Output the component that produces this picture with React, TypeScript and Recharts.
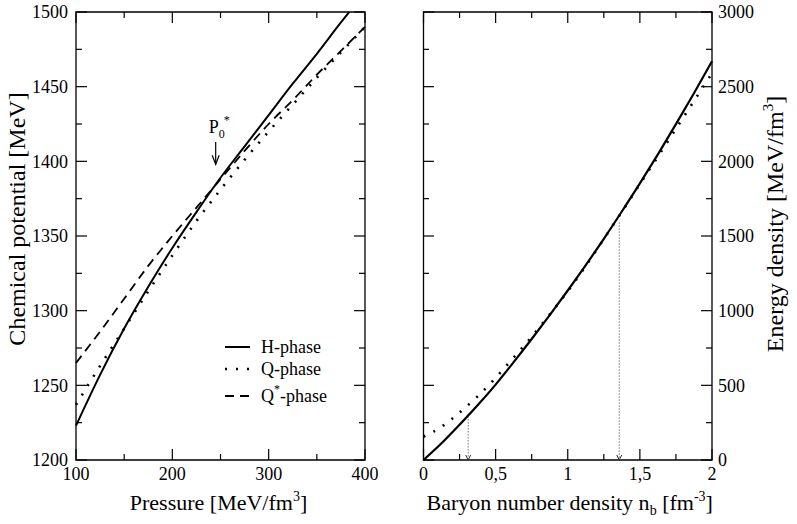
import React from 'react';
import { LineChart, Line, XAxis, YAxis, ReferenceArea, ReferenceLine, Legend, Label } from 'recharts';

// left panel: chemical potential vs pressure
const pressure = [100, 125, 150, 175, 200, 225, 250, 275, 300, 325, 350, 375, 400];
const muH = [1223, 1257, 1288, 1316, 1342, 1366, 1389, 1410, 1431, 1452, 1472, 1493, 1513];
const muQ = [1237, 1263, 1288, 1313, 1337, 1360, 1381, 1401, 1420, 1438, 1456, 1473, 1490];
const muQstar = [1265, 1286, 1308, 1330, 1350, 1369, 1388, 1407, 1425, 1441, 1458, 1474, 1490];

const pressureTicks = [100, 150, 200, 250, 300, 350, 400];
const pressureLabels = [100, 200, 300, 400];
const muTicks = [1200, 1225, 1250, 1275, 1300, 1325, 1350, 1375, 1400, 1425, 1450, 1475, 1500];
const muLabels = [1200, 1250, 1300, 1350, 1400, 1450, 1500];

// P0* marker (pressure, arrow from / to in MeV)
const p0Pressure = 245;
const p0Arrow = [1413, 1398];

// right panel: energy density vs baryon density
const density = [0, 0.125, 0.25, 0.375, 0.5, 0.625, 0.75, 0.875, 1, 1.125, 1.25, 1.375, 1.5, 1.625, 1.75, 1.875, 2];
const energyH = [0, 112, 236, 366, 505, 655, 810, 970, 1135, 1305, 1481, 1664, 1852, 2047, 2249, 2456, 2670];
const energyQ = [157, 222, 318, 426, 550, 686, 826, 975, 1130, 1300, 1480, 1662, 1848, 2032, 2218, 2404, 2590];

const densityTicks = [0, 0.25, 0.5, 0.75, 1, 1.25, 1.5, 1.75, 2];
const densityLabels = [0, 0.5, 1, 1.5, 2];
const energyTicks = [0, 250, 500, 750, 1000, 1250, 1500, 1750, 2000, 2250, 2500, 2750, 3000];
const energyLabels = [0, 500, 1000, 1500, 2000, 2500, 3000];

// transition densities (n, energy where the dotted drop starts)
const transitionN = [0.31, 1.357];
const transitionE = [292, 1590];

const FONT = '"Liberation Serif", "Times New Roman", serif';
const INK = '#000';
const PLOT_W = 289;
const PLOT_H = 448;
const MAJOR = 11;
const MINOR = 6;

const SERIES_ORDER = ['h', 'q', 'qs'];
const SERIES: Record<string, { dash?: string; width: number }> = {
  h: { width: 2 },
  q: { dash: '2 9', width: 2.6 },
  qs: { dash: '9 6', width: 1.8 },
};

const leftData = pressure.map((p, i) => ({ p, h: muH[i], q: muQ[i], qs: muQstar[i] }));
const rightData = density.map((n, i) => ({ n, h: energyH[i], q: energyQ[i] }));

const comma = (v: number) => String(v).replace('.', ',');

const bottomTick = (labels: number[], fmt: (v: number) => string) => (props: any) => {
  const { x, y, payload } = props;
  const major = labels.includes(payload.value);
  const len = major ? MAJOR : MINOR;
  return (
    <g>
      <line x1={x} y1={y} x2={x} y2={y - len} stroke={INK} strokeWidth={1.2} />
      <line x1={x} y1={y - PLOT_H} x2={x} y2={y - PLOT_H + len} stroke={INK} strokeWidth={1.2} />
      {major && (
        <text x={x} y={y + 20} textAnchor="middle" fontFamily={FONT} fontSize={18} fill={INK}>
          {fmt(payload.value)}
        </text>
      )}
    </g>
  );
};

const sideTick = (labels: number[], side: 'left' | 'right') => (props: any) => {
  const { x, y, payload } = props;
  const major = labels.includes(payload.value);
  const len = major ? MAJOR : MINOR;
  const s = side === 'left' ? 1 : -1;
  const far = x + s * PLOT_W;
  return (
    <g>
      <line x1={x} y1={y} x2={x + s * len} y2={y} stroke={INK} strokeWidth={1.2} />
      <line x1={far} y1={y} x2={far - s * len} y2={y} stroke={INK} strokeWidth={1.2} />
      {major && (
        <text
          x={side === 'left' ? x - 8 : x + 6}
          y={y}
          dy="0.35em"
          textAnchor={side === 'left' ? 'end' : 'start'}
          fontFamily={FONT}
          fontSize={18}
          fill={INK}
        >
          {payload.value}
        </text>
      )}
    </g>
  );
};

const P0Arrow = (props: any) => {
  const { x1, y1, x2, y2 } = props;
  return (
    <g>
      <line x1={x1} y1={y1} x2={x2} y2={y2} stroke={INK} strokeWidth={1.2} />
      <polyline points={`${x2 - 3.5},${y2 - 9} ${x2},${y2} ${x2 + 3.5},${y2 - 9}`} fill="none" stroke={INK} strokeWidth={1.2} />
      <text x={x1 - 7} y={y1 - 9} fontFamily={FONT} fontSize={18} fill={INK}>
        P<tspan dy={5} fontSize={12}>0</tspan>
        <tspan dy={-14} dx={-1} fontSize={12}>*</tspan>
      </text>
    </g>
  );
};

const DropArrow = (props: any) => {
  const { x1, y1, x2, y2 } = props;
  return (
    <g>
      <line x1={x1} y1={y1} x2={x2} y2={y2} stroke="#333" strokeWidth={1} strokeDasharray="1 2" />
      <polyline points={`${x2 - 2.5},${y2 - 5} ${x2},${y2} ${x2 + 2.5},${y2 - 5}`} fill="none" stroke="#333" strokeWidth={1} />
    </g>
  );
};

const renderLegend = (props: any) => {
  const rows = [15, 37, 64];
  return (
    <svg width={150} height={80} style={{ overflow: 'visible', display: 'block' }}>
      {(props.payload || []).map((entry: any) => {
        const i = SERIES_ORDER.indexOf(entry.dataKey);
        const st = SERIES[entry.dataKey] || { width: 2 };
        const name: string = entry.value;
        const star = name.indexOf('*');
        return (
          <g key={entry.dataKey}>
            <line x1={3} x2={28} y1={rows[i]} y2={rows[i]} stroke={INK} strokeWidth={st.width} strokeDasharray={st.dash} />
            <text x={39} y={rows[i] + 6} fontFamily={FONT} fontSize={18} fill={INK}>
              {star < 0 ? (
                name
              ) : (
                <>
                  {name.slice(0, star)}
                  <tspan dy={-9} fontSize={12}>*</tspan>
                  <tspan dy={9}>{name.slice(star + 1)}</tspan>
                </>
              )}
            </text>
          </g>
        );
      })}
    </svg>
  );
};

export default function App() {
  return (
    <div style={{ position: 'absolute', left: 0, top: 0, width: 797, height: 524, background: '#fff' }}>
      <div style={{ position: 'absolute', left: 0, top: 0 }}>
        <LineChart width={400} height={524} data={leftData} margin={{ top: 12, right: 35, left: 0, bottom: 0 }}>
          <XAxis
            dataKey="p"
            type="number"
            domain={[100, 400]}
            ticks={pressureTicks}
            interval={0}
            height={64}
            axisLine={false}
            tickLine={false}
            tickSize={0}
            tickMargin={0}
            tick={bottomTick(pressureLabels, (v) => String(v))}
          >
            <Label
              content={(p: any) => {
                const vb = p.viewBox;
                return (
                  <text x={vb.x + vb.width / 2 - 2} y={vb.y + 50} textAnchor="middle" fontFamily={FONT} fontSize={22} fill={INK}>
                    Pressure [MeV/fm<tspan dy={-9} fontSize={14}>3</tspan>
                    <tspan dy={9}>]</tspan>
                  </text>
                );
              }}
            />
          </XAxis>
          <YAxis
            type="number"
            domain={[1200, 1500]}
            allowDataOverflow
            ticks={muTicks}
            interval={0}
            width={76}
            axisLine={false}
            tickLine={false}
            tickSize={0}
            tickMargin={0}
            tick={sideTick(muLabels, 'left')}
          >
            <Label
              content={(p: any) => {
                const vb = p.viewBox;
                const cx = 25;
                const cy = vb.y + vb.height / 2 - 17;
                return (
                  <text x={cx} y={cy} transform={`rotate(-90 ${cx} ${cy})`} textAnchor="middle" fontFamily={FONT} fontSize={24} fill={INK}>
                    Chemical potential [MeV]
                  </text>
                );
              }}
            />
          </YAxis>
          <ReferenceArea x1={100} x2={400} y1={1200} y2={1500} fill="none" fillOpacity={0} stroke={INK} strokeWidth={1.3} />
          <Line type="monotone" dataKey="h" name="H-phase" stroke={INK} strokeWidth={SERIES.h.width} dot={false} isAnimationActive={false} />
          <Line type="monotone" dataKey="q" name="Q-phase" stroke={INK} strokeWidth={SERIES.q.width} strokeDasharray={SERIES.q.dash} dot={false} isAnimationActive={false} />
          <Line type="monotone" dataKey="qs" name="Q*-phase" stroke={INK} strokeWidth={SERIES.qs.width} strokeDasharray={SERIES.qs.dash} dot={false} isAnimationActive={false} />
          <ReferenceLine
            segment={[
              { x: p0Pressure, y: p0Arrow[0] },
              { x: p0Pressure, y: p0Arrow[1] },
            ]}
            shape={P0Arrow}
          />
          <Legend
            layout="horizontal"
            align="center"
            verticalAlign="middle"
            content={renderLegend}
            wrapperStyle={{ left: 222, top: 332, width: 150, height: 80, bottom: 'auto', right: 'auto' }}
          />
        </LineChart>
      </div>
      <div style={{ position: 'absolute', left: 400, top: 0 }}>
        <LineChart width={397} height={524} data={rightData} margin={{ top: 12, right: 0, left: 23.5, bottom: 0 }}>
          <XAxis
            dataKey="n"
            type="number"
            domain={[0, 2]}
            ticks={densityTicks}
            interval={0}
            height={64}
            axisLine={false}
            tickLine={false}
            tickSize={0}
            tickMargin={0}
            tick={bottomTick(densityLabels, comma)}
          >
            <Label
              content={(p: any) => {
                const vb = p.viewBox;
                return (
                  <text x={vb.x + vb.width / 2 + 2} y={vb.y + 50} textAnchor="middle" fontFamily={FONT} fontSize={22} fill={INK}>
                    Baryon number density n<tspan dy={5} fontSize={14}>b</tspan>
                    <tspan dy={-5}> [fm</tspan>
                    <tspan dy={-9} fontSize={14}>-3</tspan>
                    <tspan dy={9}>]</tspan>
                  </text>
                );
              }}
            />
          </XAxis>
          <YAxis
            type="number"
            orientation="right"
            domain={[0, 3000]}
            ticks={energyTicks}
            interval={0}
            width={85}
            axisLine={false}
            tickLine={false}
            tickSize={0}
            tickMargin={0}
            tick={sideTick(energyLabels, 'right')}
          >
            <Label
              content={(p: any) => {
                const vb = p.viewBox;
                const cx = vb.x + 71;
                const cy = vb.y + vb.height / 2 - 12;
                return (
                  <text x={cx} y={cy} transform={`rotate(-90 ${cx} ${cy})`} textAnchor="middle" fontFamily={FONT} fontSize={24} fill={INK}>
                    Energy density [MeV/fm<tspan dy={-10} fontSize={15}>3</tspan>
                    <tspan dy={10}>]</tspan>
                  </text>
                );
              }}
            />
          </YAxis>
          <ReferenceArea x1={0} x2={2} y1={0} y2={3000} fill="none" fillOpacity={0} stroke={INK} strokeWidth={1.3} />
          <Line type="monotone" dataKey="h" name="H-phase" stroke={INK} strokeWidth={2.2} dot={false} isAnimationActive={false} />
          <Line type="monotone" dataKey="q" name="Q-phase" stroke={INK} strokeWidth={SERIES.q.width} strokeDasharray={SERIES.q.dash} dot={false} isAnimationActive={false} />
          {transitionN.map((n, i) => (
            <ReferenceLine
              key={n}
              segment={[
                { x: n, y: transitionE[i] },
                { x: n, y: 0 },
              ]}
              shape={DropArrow}
            />
          ))}
        </LineChart>
      </div>
    </div>
  );
}
